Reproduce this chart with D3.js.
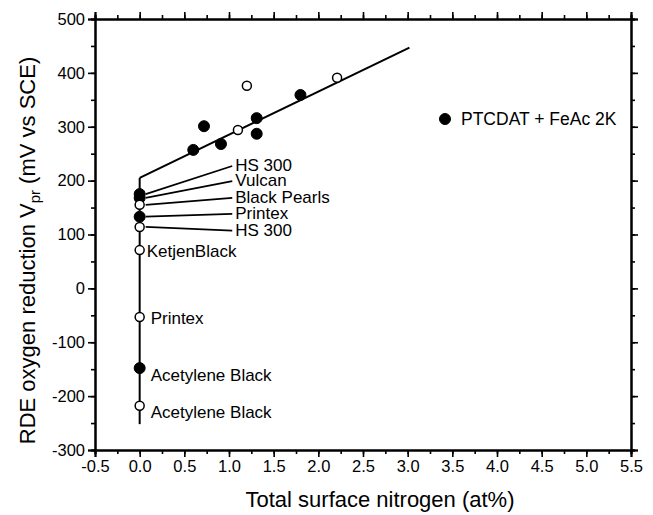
<!DOCTYPE html>
<html>
<head>
<meta charset="utf-8">
<script src="https://cdn.jsdelivr.net/npm/d3@7"></script>
<style>
  html, body { margin: 0; padding: 0; background: #fff; }
  svg { display: block; font-family: "Liberation Sans", Arial, Helvetica, sans-serif; }
</style>
</head>
<body>
<svg id="chart" width="653" height="515"></svg>
<script>
// ---- data ----
const xTicks = [-0.5, 0.0, 0.5, 1.0, 1.5, 2.0, 2.5, 3.0, 3.5, 4.0, 4.5, 5.0, 5.5];
const yTicks = [-300, -200, -100, 0, 100, 200, 300, 400, 500];

// PTCDAT + FeAc 2K samples (filled) and other N-containing carbons (open)
const filledX = [0.6, 0.72, 0.91, 1.31, 1.31, 1.8];
const filledY = [257, 301, 268, 316, 287, 359];
const openX = [1.1, 1.2, 2.21];
const openY = [294, 376, 391];

// carbon blacks at zero nitrogen
const blackNames = ["HS 300", "Vulcan", "Black Pearls", "Printex", "HS 300", "KetjenBlack", "Printex", "Acetylene Black", "Acetylene Black"];
const blackY = [175, 168, 155, 133, 114, 71, -53, -148, -218];
const blackFilled = [true, true, false, true, false, false, false, true, false];
const blackLeader = [true, true, true, true, true, false, false, false, false];
const leaderLabelY = [229, 201, 170, 140, 109];
const directLabelY = [null, null, null, null, null, 70, -55, -160, -230];

// fitted lines
const fitX = [0, 3.02];
const fitY = [205, 447];
const vertX = [0, 0];
const vertY = [205, -252];

const legendLabel = "PTCDAT + FeAc 2K";

// ---- layout ----
const svg = d3.select("#chart");
const L = 95, R = 631, T = 19, B = 450;
const x = d3.scaleLinear().domain([-0.5, 5.5]).range([L, R]);
const y = d3.scaleLinear().domain([-300, 500]).range([B, T]);

const minorX = d3.range(-0.5, 5.5001, 0.25);
const minorY = d3.range(-300, 500.001, 50);
const hyph = f => v => f(v).replace("\u2212", "-");

function axis(gen, tr, major, minor, showLabels, fmt) {
  const g1 = svg.append("g").attr("transform", tr)
    .call(gen(minor).tickSize(4).tickFormat(""));
  const g2 = svg.append("g").attr("transform", tr)
    .call(gen(major).tickSize(7).tickPadding(3).tickFormat(showLabels ? fmt : ""));
  [g1, g2].forEach(g => {
    g.select(".domain").attr("stroke", "#000").attr("stroke-width", 2);
    g.selectAll(".tick line").attr("stroke", "#000").attr("stroke-width", 1.6);
    g.selectAll("text").attr("font-size", 16.5).attr("fill", "#000")
      .attr("font-family", "'Liberation Sans', Arial, sans-serif");
  });
}
axis(v => d3.axisBottom(x).tickValues(v), `translate(0,${B})`, xTicks, minorX, true, hyph(d3.format(".1f")));
axis(v => d3.axisTop(x).tickValues(v), `translate(0,${T})`, xTicks, minorX, false);
axis(v => d3.axisLeft(y).tickValues(v), `translate(${L},0)`, yTicks, minorY, true, hyph(d3.format("d")));
axis(v => d3.axisRight(y).tickValues(v), `translate(${R},0)`, yTicks, minorY, false);

// axis titles
svg.append("text")
  .attr("x", 380).attr("y", 507)
  .attr("text-anchor", "middle").attr("font-size", 22)
  .text("Total surface nitrogen (at%)");

const yt = svg.append("text")
  .attr("transform", `translate(35,${(T + B) / 2 + 16}) rotate(-90)`)
  .attr("text-anchor", "middle").attr("font-size", 22);
yt.append("tspan").text("RDE oxygen reduction V");
yt.append("tspan").attr("font-size", 15).attr("dy", 5).text("pr");
yt.append("tspan").attr("dy", -5).text(" (mV vs SCE)");

// fitted lines
const line = d3.line().x(d => x(d[0])).y(d => y(d[1]));
svg.append("path").attr("d", line(d3.zip(fitX, fitY)))
  .attr("fill", "none").attr("stroke", "#000").attr("stroke-width", 2);
svg.append("path").attr("d", line(d3.zip(vertX, vertY)))
  .attr("fill", "none").attr("stroke", "#000").attr("stroke-width", 2);

// leader lines and labels for carbon blacks
const labX = 1.07;
blackNames.forEach((name, i) => {
  if (blackLeader[i]) {
    const ly = leaderLabelY[i];
    svg.append("line")
      .attr("x1", x(0) + 6).attr("y1", y(blackY[i]))
      .attr("x2", x(labX) - 3).attr("y2", y(ly) + 1)
      .attr("stroke", "#000").attr("stroke-width", 1.8);
    svg.append("text").attr("x", x(labX)).attr("y", y(ly))
      .attr("dy", "0.36em").attr("font-size", 17).text(name);
  } else {
    svg.append("text").attr("x", x(0) + (i === 5 ? 7 : 11)).attr("y", y(directLabelY[i]))
      .attr("dy", "0.36em").attr("font-size", 17).text(name);
  }
});

// markers
function dot(cx, cy, filled) {
  svg.append("circle").attr("cx", cx).attr("cy", cy)
    .attr("r", filled ? 5.5 : 4.5)
    .attr("fill", filled ? "#000" : "#fff")
    .attr("stroke", "#000").attr("stroke-width", filled ? 1 : 1.5);
}
filledX.forEach((v, i) => dot(x(v), y(filledY[i]), true));
openX.forEach((v, i) => dot(x(v), y(openY[i]), false));
blackY.forEach((v, i) => dot(x(0), y(v), blackFilled[i]));

// legend
dot(445, 119, true);
svg.append("text").attr("x", 461).attr("y", 119).attr("dy", "0.36em")
  .attr("font-size", 17.5).text(legendLabel);
</script>
</body>
</html>
